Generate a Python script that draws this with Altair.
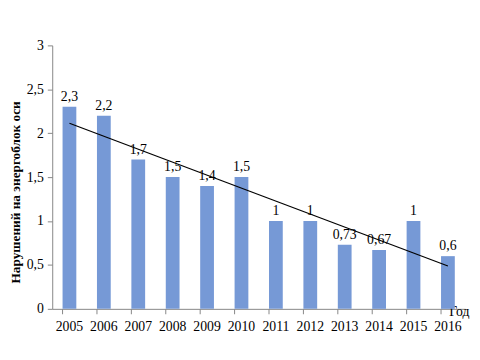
import altair as alt
import pandas as pd

years = [2005, 2006, 2007, 2008, 2009, 2010, 2011, 2012, 2013, 2014, 2015, 2016]
values = [2.3, 2.2, 1.7, 1.5, 1.4, 1.5, 1.0, 1.0, 0.73, 0.67, 1.0, 0.6]
labels = ["2,3", "2,2", "1,7", "1,5", "1,4", "1,5", "1", "1", "0,73", "0,67", "1", "0,6"]

df = pd.DataFrame({"year": years, "value": values, "label": labels})

FONT = "Liberation Serif"
FS = 14

x = alt.X("year:O", title="Год",
          scale=alt.Scale(paddingInner=0.6, paddingOuter=0.3),
          axis=alt.Axis(labelAngle=0, bandPosition=0, labelFont=FONT, labelFontSize=FS,
                        labelColor="black", domainColor="#868686", tickColor="#868686",
                        tickSize=5, labelPadding=6, titleFont=FONT, titleFontSize=FS,
                        titleFontWeight="normal", titleColor="black",
                        titleAnchor="end", titleAlign="right", titleX=424, titleY=-4,
                        titleBaseline="top"))
y = alt.Y("value:Q", title="Нарушений на энергоблок оси",
          scale=alt.Scale(domain=[0, 3]),
          axis=alt.Axis(values=[0, 0.5, 1, 1.5, 2, 2.5, 3], format="~g",
                        labelExpr="replace(datum.label, '.', ',')",
                        grid=False, labelFont=FONT, labelFontSize=FS, labelColor="black",
                        domainColor="#868686", tickColor="#868686", tickSize=5,
                        labelPadding=4, titleFont=FONT, titleFontSize=13.5,
                        titleFontWeight="bold", titleColor="black",
                        titleX=-30, titleY=149, titleAngle=270))

bars = alt.Chart(df).mark_bar(color="#7699D6").encode(x=x, y=y)
text = alt.Chart(df).mark_text(font=FONT, fontSize=FS, color="black",
                               baseline="bottom", dy=-3).encode(
    x="year:O", y="value:Q", text="label:N")
trend = alt.Chart(df).transform_regression("year", "value").mark_line(
    color="black", strokeWidth=1.2).encode(x="year:O", y="value:Q")

chart = alt.layer(bars, text, trend).properties(
    width=420, height=268,
    autosize=alt.AutoSizeParams(type="none"),
    padding={"left": 45, "top": 35, "right": 7, "bottom": 49},
).configure_view(stroke=None)

chart.save("out.html", embed_options={"renderer": "svg", "actions": False})
